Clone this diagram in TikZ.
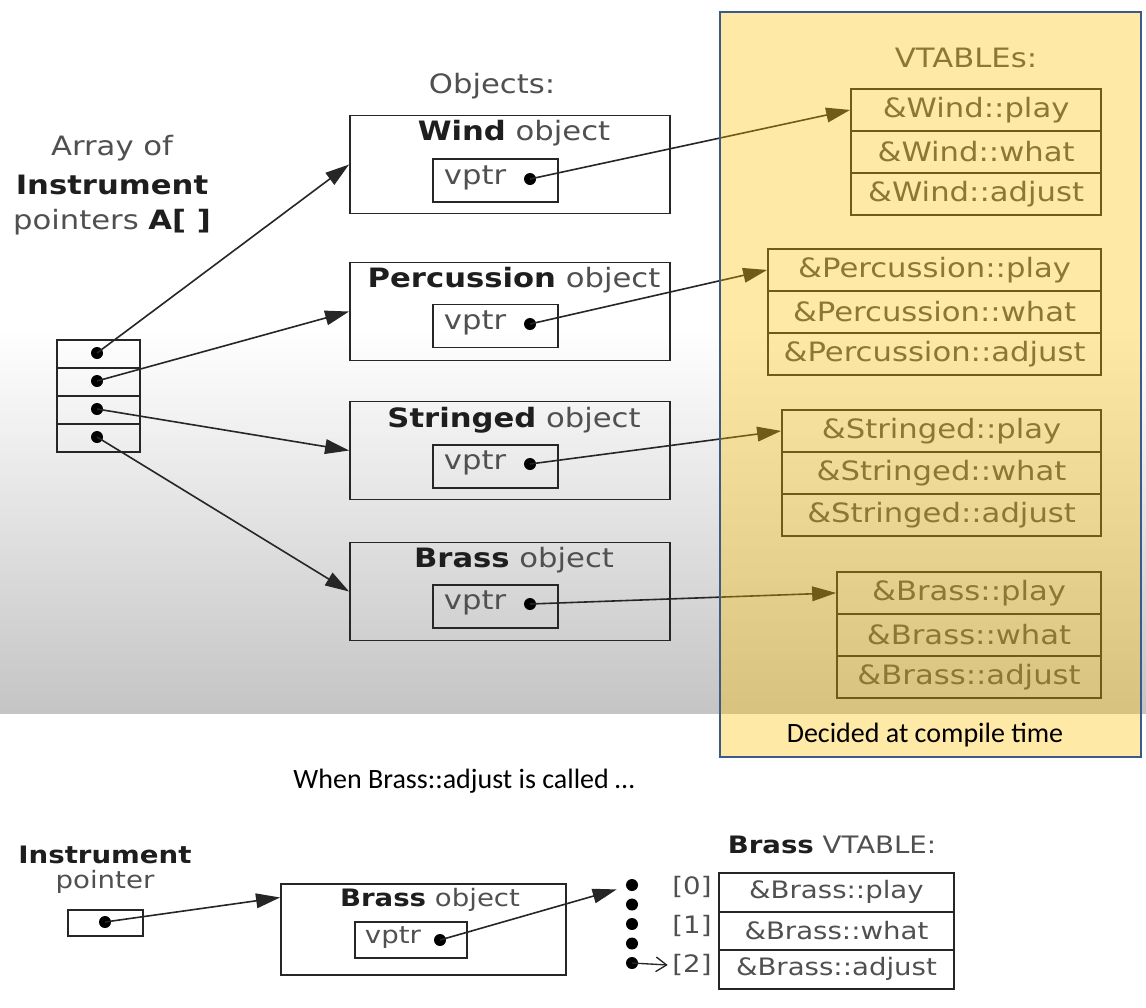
\documentclass[tikz,border=0pt]{standalone}
\usepackage{fontspec}
\setmainfont{DejaVu Sans}[FakeStretch=1.15]
\newfontfamily\calfont{Carlito}
\usetikzlibrary{arrows.meta,calc}
\definecolor{txt}{HTML}{505050}
\definecolor{bld}{HTML}{1E1E1E}
\definecolor{ln}{HTML}{262626}
\definecolor{gold}{HTML}{FFC000}
\definecolor{pblue}{HTML}{3A5A8C}
\newcommand\bk[1]{\textcolor{bld}{\bfseries #1}}
\begin{document}
\begin{tikzpicture}[x=0.75pt, y=-0.75pt,
  font=\fontsize{20}{24}\selectfont, text=txt,
  box/.style={draw=ln, line width=1.4pt, inner sep=0pt, rectangle},
  objbox/.style={box, minimum width=240pt, minimum height=73.5pt},
  vpbox/.style={box, minimum width=93.75pt, minimum height=32.25pt},
  cell/.style={box, minimum width=62.25pt, minimum height=21pt},
  dot/.style={circle, fill=black, inner sep=0pt, minimum size=9pt},
  ptr/.style={draw=ln, line width=1.2pt, -{Triangle[length=18pt,width=11pt]}},
  vrow/.style={box, minimum height=31.5pt, anchor=north east},
  small/.style={font=\fontsize{18}{22}\selectfont},
  callbl/.style={font=\calfont\fontsize{21}{25}\selectfont, text=black}
]
% background
\fill[white] (0,0) rectangle (1146,1007);
\shade[top color=white, bottom color=black!23] (0,330) rectangle (1146,713);
\useasboundingbox (0,0) rectangle (1146,1007);

% array of pointers
\node (arr1) at (112,148) {Array of};
\node (arr2) at (112,185) {\bk{Instrument}};
\node (arr3) at (112,222) {pointers \bk{A[ ]}};
\node[cell] (a0) at (98.5,354) {};
\node[cell] (a1) at (98.5,382) {};
\node[cell] (a2) at (98.5,410) {};
\node[cell] (a3) at (98.5,438) {};
\node[dot] (d0) at (97,353) {};
\node[dot] (d1) at (97,381) {};
\node[dot] (d2) at (97,409) {};
\node[dot] (d3) at (97,437) {};

% objects
\node (objt) at (492,86) {Objects:};
\node[objbox] (ow) at (510,164.5) {};
\node[objbox] (op) at (510,311.5) {};
\node[objbox] (os) at (510,450.5) {};
\node[objbox] (ob) at (510,591.5) {};
\node (tw) at (514,133) {\bk{Wind} object};
\node (tp) at (514,280) {\bk{Percussion} object};
\node (ts) at (514,420) {\bk{Stringed} object};
\node (tb) at (514,560) {\bk{Brass} object};
\node[vpbox] (vw) at (495.5,180.5) {};
\node[vpbox] (vp) at (495.5,326) {};
\node[vpbox] (vs) at (495.5,466.5) {};
\node[vpbox] (vb) at (495.5,606.5) {};
\node (xw) at (475,178) {vptr};
\node (xp) at (475,323) {vptr};
\node (xs) at (475,463) {vptr};
\node (xb) at (475,603) {vptr};
\node[dot] (pw) at (530,179) {};
\node[dot] (pp) at (530,324) {};
\node[dot] (ps) at (530,464) {};
\node[dot] (pb) at (530,604) {};

% vtables
\node (vtt) at (966,58) {VTABLEs:};
\node[vrow, minimum width=187.5pt] (w1) at (1102,88) {\&Wind::play};
\node[vrow, minimum width=187.5pt] (w2) at (1102,130) {\&Wind::what};
\node[vrow, minimum width=187.5pt] (w3) at (1102,172) {\&Wind::adjust};
\node[vrow, minimum width=249.75pt] (p1) at (1102,248) {\&Percussion::play};
\node[vrow, minimum width=249.75pt] (p2) at (1102,290) {\&Percussion::what};
\node[vrow, minimum width=249.75pt] (p3) at (1102,332) {\&Percussion::adjust};
\node[vrow, minimum width=239.25pt] (s1) at (1102,409) {\&Stringed::play};
\node[vrow, minimum width=239.25pt] (s2) at (1102,451) {\&Stringed::what};
\node[vrow, minimum width=239.25pt] (s3) at (1102,493) {\&Stringed::adjust};
\node[vrow, minimum width=198pt] (b1) at (1102,571) {\&Brass::play};
\node[vrow, minimum width=198pt] (b2) at (1102,613) {\&Brass::what};
\node[vrow, minimum width=198pt] (b3) at (1102,655) {\&Brass::adjust};

% connectors
\draw[ptr] (d0.center) -- (ow.west);
\draw[ptr] (d1.center) -- (op.west);
\draw[ptr] (d2.center) -- (os.west);
\draw[ptr] (d3.center) -- (ob.west);
\draw[ptr] (pw.center) -- (w1.west);
\draw[ptr] (pp.center) -- (p1.west);
\draw[ptr] (ps.center) -- (s1.west);
\draw[ptr] (pb.center) -- (b1.west);

% compile-time panel
\fill[gold, opacity=0.35] (720,12) rectangle (1141,757);
\draw[pblue, line width=1.8pt] (720,12) rectangle (1141,757);
\node[callbl] (dec) at (925,735) {Decided at compile time};

\node[callbl] (when) at (464,781) {When Brass::adjust is called …};

% bottom example
\node[small] (ip1) at (105,855) {\bk{Instrument}};
\node[small] (ip2) at (105,882) {pointer};
\node[box, minimum width=56.25pt, minimum height=19.5pt] (pbx) at (105.5,923) {};
\node[dot] (pd) at (105,922) {};
\node[box, minimum width=213.75pt, minimum height=68.25pt] (bo) at (423.5,929.5) {};
\node[small] (bot) at (430,900) {\bk{Brass} object};
\node[box, minimum width=84pt, minimum height=27pt] (bv) at (411,940) {};
\node[small] (bvx) at (393,938) {vptr};
\node[dot] (bd) at (440,940) {};
\foreach \i/\yy in {0/885,1/904.5,2/924,3/943.5,4/963}
  \node[dot] (c\i) at (632,\yy) {};
\node[small] (l0) at (692,887) {[0]};
\node[small] (l1) at (692,926) {[1]};
\node[small] (l2) at (692,965) {[2]};
\node[small] (bvt) at (832,845) {\bk{Brass} VTABLE:};
\node[box, small, minimum width=176.25pt, minimum height=29pt, anchor=north west] (r0) at (718,872) {\&Brass::play};
\node[box, small, minimum width=176.25pt, minimum height=29pt, anchor=north west] (r1) at (718,910.5) {\&Brass::what};
\node[box, small, minimum width=176.25pt, minimum height=29pt, anchor=north west] (r2) at (718,949) {\&Brass::adjust};

\draw[ptr] (pd.center) -- ($(bo.north west)!0.155!(bo.south west)$);
\draw[ptr, shorten >=12pt] (bd.center) -- (c0.center);
\draw[draw=ln, line width=1pt, -{Straight Barb[length=8pt,width=11pt]}] (c4.center) -- (l2.west);
\end{tikzpicture}
\end{document}
